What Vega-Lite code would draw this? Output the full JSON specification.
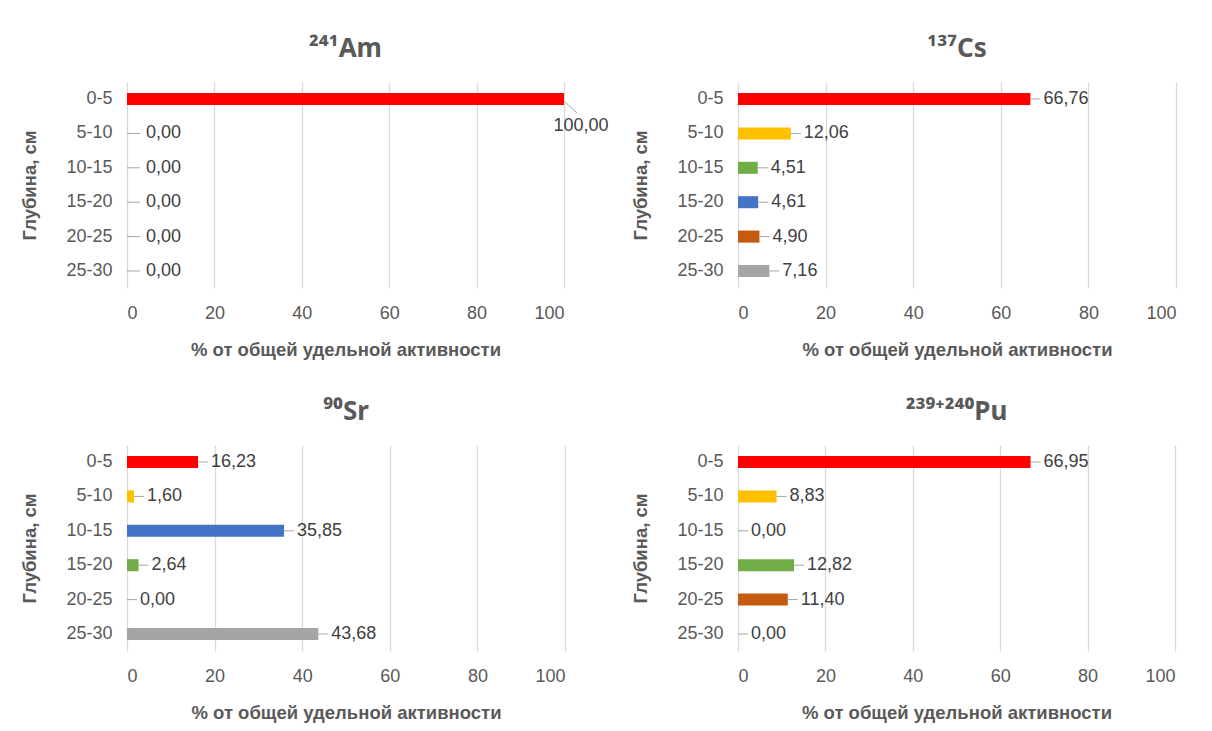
{
  "$schema": "https://vega.github.io/schema/vega-lite/v6.json",
  "background": "white",
  "padding": {"left": 20, "top": 36, "right": 5, "bottom": 5},
  "columns": 2,
  "spacing": {"row": 40, "column": 22},
  "data": {"values": [
    {"iso": "Am", "depth": "0-5", "v": 100.00},
    {"iso": "Am", "depth": "5-10", "v": 0},
    {"iso": "Am", "depth": "10-15", "v": 0},
    {"iso": "Am", "depth": "15-20", "v": 0},
    {"iso": "Am", "depth": "20-25", "v": 0},
    {"iso": "Am", "depth": "25-30", "v": 0},
    {"iso": "Cs", "depth": "0-5", "v": 66.76},
    {"iso": "Cs", "depth": "5-10", "v": 12.06},
    {"iso": "Cs", "depth": "10-15", "v": 4.51},
    {"iso": "Cs", "depth": "15-20", "v": 4.61},
    {"iso": "Cs", "depth": "20-25", "v": 4.90},
    {"iso": "Cs", "depth": "25-30", "v": 7.16},
    {"iso": "Sr", "depth": "0-5", "v": 16.23},
    {"iso": "Sr", "depth": "5-10", "v": 1.60},
    {"iso": "Sr", "depth": "10-15", "v": 35.85},
    {"iso": "Sr", "depth": "15-20", "v": 2.64},
    {"iso": "Sr", "depth": "20-25", "v": 0},
    {"iso": "Sr", "depth": "25-30", "v": 43.68},
    {"iso": "Pu", "depth": "0-5", "v": 66.95},
    {"iso": "Pu", "depth": "5-10", "v": 8.83},
    {"iso": "Pu", "depth": "10-15", "v": 0},
    {"iso": "Pu", "depth": "15-20", "v": 12.82},
    {"iso": "Pu", "depth": "20-25", "v": 11.40},
    {"iso": "Pu", "depth": "25-30", "v": 0}
  ]},
  "concat": [
    {
      "width": 437, "height": 206,
      "title": {"text": "²⁴¹Am"},
      "transform": [{"filter": "datum.iso == 'Am'"}],
      "encoding": {
        "y": {"field": "depth", "type": "nominal", "sort": ["0-5","5-10","10-15","15-20","20-25","25-30"], "scale": {"paddingInner": 0.65, "paddingOuter": 0.32}, "axis": {"title": "Глубина, см"}},
        "x": {"field": "v", "type": "quantitative", "scale": {"domain": [0, 100]}, "axis": {"values": [0,20,40,60,80,100], "title": "% от общей удельной активности"}}
      },
      "layer": [
        {"mark": {"type": "bar"}, "encoding": {"color": {"field": "depth", "type": "nominal", "scale": {"domain": ["0-5"], "range": ["#FF0000"]}, "legend": null}}},
        {"transform": [{"filter": "datum.v < 100"}], "mark": {"type": "rule", "x2Offset": 13, "color": "#a6a6a6"}, "encoding": {"x2": {"field": "v"}}},
        {"transform": [{"filter": "datum.v < 100"}], "mark": {"type": "text", "align": "left", "dx": 19}, "encoding": {"text": {"field": "v", "type": "quantitative", "format": ".2f"}}},
        {"transform": [{"filter": "datum.v >= 100"}], "mark": {"type": "rule", "x2Offset": 13, "y2Offset": 14, "yOffset": 2, "color": "#a6a6a6"}, "encoding": {"x2": {"field": "v"}, "y2": {"field": "depth"}}},
        {"transform": [{"filter": "datum.v >= 100"}], "mark": {"type": "text", "align": "center", "dx": 17, "dy": 27}, "encoding": {"text": {"field": "v", "type": "quantitative", "format": ".2f"}}}
      ]
    },
    {
      "width": 438, "height": 206,
      "title": {"text": "¹³⁷Cs"},
      "transform": [{"filter": "datum.iso == 'Cs'"}],
      "encoding": {
        "y": {"field": "depth", "type": "nominal", "sort": ["0-5","5-10","10-15","15-20","20-25","25-30"], "scale": {"paddingInner": 0.65, "paddingOuter": 0.32}, "axis": {"title": "Глубина, см"}},
        "x": {"field": "v", "type": "quantitative", "scale": {"domain": [0, 100]}, "axis": {"values": [0,20,40,60,80,100], "title": "% от общей удельной активности"}}
      },
      "layer": [
        {"mark": {"type": "bar"}, "encoding": {"color": {"field": "depth", "type": "nominal", "scale": {"domain": ["0-5","5-10","10-15","15-20","20-25","25-30"], "range": ["#FF0000","#FFC000","#70AD47","#4472C4","#C55A11","#A5A5A5"]}, "legend": null}}},
        {"mark": {"type": "rule", "x2Offset": 10, "color": "#a6a6a6"}, "encoding": {"x2": {"field": "v"}}},
        {"mark": {"type": "text", "align": "left", "dx": 13}, "encoding": {"text": {"field": "v", "type": "quantitative", "format": ".2f"}}}
      ]
    },
    {
      "width": 438, "height": 206,
      "title": {"text": "⁹⁰Sr"},
      "transform": [{"filter": "datum.iso == 'Sr'"}],
      "encoding": {
        "y": {"field": "depth", "type": "nominal", "sort": ["0-5","5-10","10-15","15-20","20-25","25-30"], "scale": {"paddingInner": 0.65, "paddingOuter": 0.32}, "axis": {"title": "Глубина, см"}},
        "x": {"field": "v", "type": "quantitative", "scale": {"domain": [0, 100]}, "axis": {"values": [0,20,40,60,80,100], "title": "% от общей удельной активности"}}
      },
      "layer": [
        {"mark": {"type": "bar"}, "encoding": {"color": {"field": "depth", "type": "nominal", "scale": {"domain": ["0-5","5-10","10-15","15-20","20-25","25-30"], "range": ["#FF0000","#FFC000","#4472C4","#70AD47","#C55A11","#A5A5A5"]}, "legend": null}}},
        {"mark": {"type": "rule", "x2Offset": 10, "color": "#a6a6a6"}, "encoding": {"x2": {"field": "v"}}},
        {"mark": {"type": "text", "align": "left", "dx": 13}, "encoding": {"text": {"field": "v", "type": "quantitative", "format": ".2f"}}}
      ]
    },
    {
      "width": 437, "height": 206,
      "title": {"text": "²³⁹⁺²⁴⁰Pu"},
      "transform": [{"filter": "datum.iso == 'Pu'"}],
      "encoding": {
        "y": {"field": "depth", "type": "nominal", "sort": ["0-5","5-10","10-15","15-20","20-25","25-30"], "scale": {"paddingInner": 0.65, "paddingOuter": 0.32}, "axis": {"title": "Глубина, см"}},
        "x": {"field": "v", "type": "quantitative", "scale": {"domain": [0, 100]}, "axis": {"values": [0,20,40,60,80,100], "title": "% от общей удельной активности"}}
      },
      "layer": [
        {"mark": {"type": "bar"}, "encoding": {"color": {"field": "depth", "type": "nominal", "scale": {"domain": ["0-5","5-10","10-15","15-20","20-25","25-30"], "range": ["#FF0000","#FFC000","#A5A5A5","#70AD47","#C55A11","#A5A5A5"]}, "legend": null}}},
        {"mark": {"type": "rule", "x2Offset": 10, "color": "#a6a6a6"}, "encoding": {"x2": {"field": "v"}}},
        {"mark": {"type": "text", "align": "left", "dx": 13}, "encoding": {"text": {"field": "v", "type": "quantitative", "format": ".2f"}}}
      ]
    }
  ],
  "resolve": {"scale": {"color": "independent", "x": "independent", "y": "independent"}},
  "config": {
    "locale": {"number": {"decimal": ",", "thousands": " ", "grouping": [3], "currency": ["", ""]}},
    "font": "Liberation Sans",
    "view": {"stroke": null},
    "title": {"fontSize": 26, "fontWeight": "bold", "color": "#595959", "font": "Noto Sans", "offset": 20, "anchor": "middle"},
    "axis": {
      "labelFont": "Liberation Sans", "labelFontSize": 18, "labelColor": "#595959",
      "titleFont": "Liberation Sans", "titleFontSize": 18.5, "titleFontWeight": "bold", "titleColor": "#595959",
      "domain": false, "ticks": false, "gridColor": "#d9d9d9", "gridWidth": 1.3
    },
    "axisY": {"grid": false, "labelPadding": 15, "titlePadding": 26},
    "axisX": {"grid": true, "labelPadding": 16, "titlePadding": 18},
    "text": {"fontSize": 18, "color": "#404040", "font": "Liberation Sans", "baseline": "middle"}
  }
}
